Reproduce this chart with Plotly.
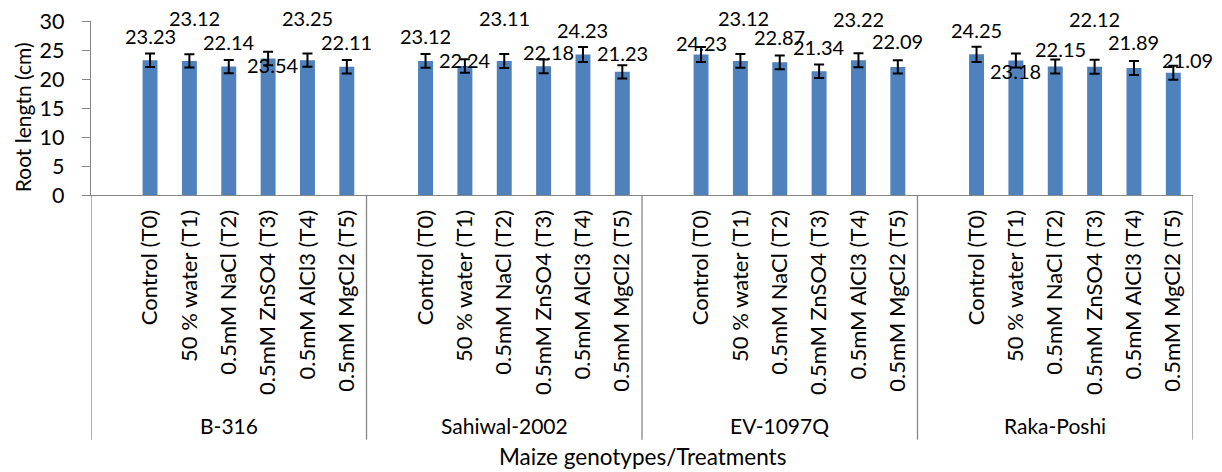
import plotly.graph_objects as go

genotypes = ["B-316", "Sahiwal-2002", "EV-1097Q", "Raka-Poshi"]
treatments = ["Control (T0)", "50 % water (T1)", "0.5mM NaCl (T2)",
              "0.5mM ZnSO4 (T3)", "0.5mM AlCl3 (T4)", "0.5mM MgCl2 (T5)"]

root_length = {
    "B-316":        [23.23, 23.12, 22.14, 23.54, 23.25, 22.11],
    "Sahiwal-2002": [23.12, 22.24, 23.11, 22.18, 24.23, 21.23],
    "EV-1097Q":     [24.23, 23.12, 22.87, 21.34, 23.22, 22.09],
    "Raka-Poshi":   [24.25, 23.18, 22.15, 22.12, 21.89, 21.09],
}
root_error = {
    "B-316":        [1.15, 1.15, 1.15, 1.15, 1.15, 1.15],
    "Sahiwal-2002": [1.20, 1.15, 1.20, 1.20, 1.30, 1.15],
    "EV-1097Q":     [1.30, 1.20, 1.20, 1.15, 1.20, 1.15],
    "Raka-Poshi":   [1.30, 1.20, 1.20, 1.20, 1.20, 1.20],
}

# label placement (style): label centre height (axis units) and x shift (px)
label_y = {
    "B-316":        [27.5, 30.6, 26.4, 22.4, 30.6, 26.4],
    "Sahiwal-2002": [27.5, 23.2, 30.6, 24.7, 28.5, 24.4],
    "EV-1097Q":     [26.2, 30.6, 27.2, 25.5, 30.4, 26.6],
    "Raka-Poshi":   [28.4, 21.4, 25.1, 30.4, 26.4, 23.2],
}
label_dx = {
    "B-316":        [0, 5, 0, 5, 0, 0],
    "Sahiwal-2002": [0, 0, 0, 5, 0, 0],
    "EV-1097Q":     [0, 3, 0, 0, 0, 0],
    "Raka-Poshi":   [0, 0, 5, 0, 0, 14],
}

FONT = "Lato"
AXIS_GREY = "#868686"
Y_MAX = 30
slots = len(treatments) + 1  # one empty slot leads each genotype group

xs, ys, es, tickvals, ticktext = [], [], [], [], []
annotations, shapes = [], []
for g, gen in enumerate(genotypes):
    for t, tr in enumerate(treatments):
        x = g * slots + t + 1
        xs.append(x)
        ys.append(root_length[gen][t])
        es.append(root_error[gen][t])
        tickvals.append(x)
        ticktext.append(tr)
        annotations.append(dict(
            x=x, y=label_y[gen][t] / Y_MAX, xref="x", yref="paper",
            xanchor="center", yanchor="middle",
            text=f"{root_length[gen][t]:.2f}", showarrow=False,
            xshift=label_dx[gen][t], font=dict(family=FONT, size=20, color="black"),
        ))
    annotations.append(dict(
        x=g * slots + (slots - 1) / 2, y=-1.325, xref="x", yref="paper",
        xanchor="center", yanchor="middle",
        text=gen, showarrow=False, font=dict(family=FONT, size=21, color="black"),
    ))
for g in range(len(genotypes) + 1):
    shapes.append(dict(
        type="line", xref="x", yref="paper",
        x0=g * slots - 0.5, x1=g * slots - 0.5, y0=0, y1=-1.406,
        line=dict(color=AXIS_GREY, width=1.3),
    ))

annotations.append(dict(
    x=0.5, y=-1.503, xref="paper", yref="paper", text="Maize genotypes/Treatments",
    xanchor="center", yanchor="middle",
    showarrow=False, font=dict(family=FONT, size=22.5, color="black"),
))
annotations.append(dict(
    x=-0.0626, y=0.447, xref="paper", yref="paper", text="Root lengtn (cm)",
    xanchor="center", yanchor="middle",
    textangle=-90, showarrow=False, font=dict(family=FONT, size=21, color="black"),
))

fig = go.Figure(go.Bar(
    x=xs, y=ys, width=0.38,
    marker=dict(color="#4F81BD", line=dict(width=0)),
    error_y=dict(type="data", array=es, visible=True, color="black",
                 thickness=2, width=5),
))

fig.update_layout(
    width=1222, height=472,
    margin=dict(l=91, r=29, t=21, b=277, autoexpand=False),
    plot_bgcolor="white", paper_bgcolor="white",
    showlegend=False,
    font=dict(family=FONT, size=20, color="black"),
    annotations=annotations, shapes=shapes,
    xaxis=dict(
        range=[-0.5, len(genotypes) * slots - 0.5],
        tickmode="array", tickvals=tickvals, ticktext=ticktext,
        tickangle=-90, ticks="", showgrid=False, zeroline=False,
        showline=True, linecolor=AXIS_GREY, linewidth=1.3,
        tickfont=dict(family=FONT, size=22, color="black"),
        ticklabelstandoff=5,
        automargin=False,
    ),
    yaxis=dict(
        range=[0, Y_MAX], tickmode="linear", tick0=0, dtick=5,
        ticks="outside", ticklen=8, tickcolor=AXIS_GREY, tickwidth=1.3,
        ticklabelstandoff=13,
        showgrid=False, zeroline=False,
        showline=True, linecolor=AXIS_GREY, linewidth=1.3,
        tickfont=dict(family=FONT, size=21.5, color="black"),
        automargin=False,
    ),
)

fig.write_html(
    "out.html",
    config={"displayModeBar": False},
    post_script="document.body.style.margin='0';document.body.style.overflow='hidden';",
)
